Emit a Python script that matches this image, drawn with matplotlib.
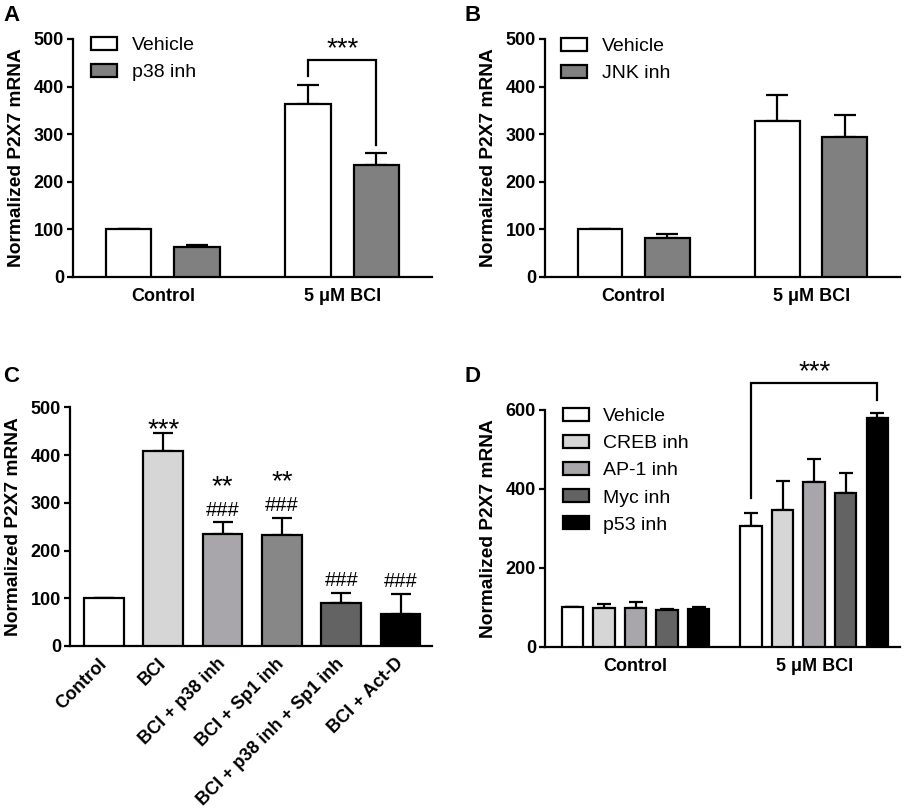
import numpy as np
import matplotlib.pyplot as plt

plt.rcParams['font.family'] = ['Liberation Sans', 'DejaVu Sans']

# Panel A: p38 inhibitor
groups = ['Control', '5 \u03bcM BCI']
a_names = ['Vehicle', 'p38 inh']
a_vals = [[100, 63], [363, 235]]
a_errs = [[0, 4], [40, 25]]

# Panel B: JNK inhibitor
b_names = ['Vehicle', 'JNK inh']
b_vals = [[100, 82], [327, 295]]
b_errs = [[0, 8], [55, 45]]

# Panel C: combined treatments
c_labels = ['Control', 'BCI', 'BCI + p38 inh', 'BCI + Sp1 inh',
            'BCI + p38 inh + Sp1 inh', 'BCI + Act-D']
c_vals = [100, 409, 235, 233, 91, 66]
c_errs = [0, 38, 24, 35, 21, 43]
c_stars = ['', '***', '**', '**', '', '']
c_hash = ['', '', '###', '###', '###', '###']

# Panel D: transcription factor inhibitors
d_names = ['Vehicle', 'CREB inh', 'AP-1 inh', 'Myc inh', 'p53 inh']
d_ctrl = [100, 98, 99, 94, 97]
d_ctrl_err = [0, 10, 15, 2, 4]
d_bci = [305, 346, 418, 389, 579]
d_bci_err = [33, 75, 58, 51, 14]

ab_colors = ['white', '#808080']
c_colors = ['white', '#d6d6d6', '#a8a6ab', '#878787', '#636363', 'black']
d_colors = ['white', '#d6d6d6', '#a8a6ab', '#636363', 'black']

LW = 1.6
fig = plt.figure(figsize=(9.06, 8.08), dpi=100)


def style_axis(ax, ymax, step):
    for s in ['top', 'right']:
        ax.spines[s].set_visible(False)
    for s in ['left', 'bottom']:
        ax.spines[s].set_linewidth(LW)
    ax.set_ylim(0, ymax)
    ax.set_yticks(np.arange(0, ymax + 1, step))
    ax.tick_params(axis='y', length=4.5, width=LW, labelsize=13, pad=2)
    ax.tick_params(axis='x', length=0, labelsize=13, pad=8)
    for t in ax.get_yticklabels() + ax.get_xticklabels():
        t.set_fontweight('bold')
    ax.set_ylabel('Normalized P2X7 mRNA', fontsize=13.8, fontweight='bold', labelpad=6)


def grouped(ax, names, vals, errs, colors, offsets, width, cap):
    vals = np.array(vals)
    errs = np.array(errs)
    for j, name in enumerate(names):
        x = np.arange(len(vals)) + offsets[j]
        ax.bar(x, vals[:, j], width, color=colors[j], edgecolor='black',
               linewidth=LW, label=name, zorder=3)
        ax.errorbar(x, vals[:, j], yerr=[np.zeros(len(x)), errs[:, j]], fmt='none',
                    ecolor='black', elinewidth=LW, capsize=cap, capthick=LW, zorder=2)
    ax.set_xticks(np.arange(len(vals)))
    ax.set_xticklabels(groups)


def legend(ax, x, y):
    ax.legend(loc='upper left', bbox_to_anchor=(x, y), frameon=False, fontsize=14,
              handlelength=1.34, handleheight=0.67, handletextpad=0.75,
              labelspacing=0.5, borderpad=0, borderaxespad=0)


def bracket(ax, x1, x2, y1, y2, top, stars, gap):
    ax.plot([x1, x1, x2, x2], [y1, top, top, y2], color='black', lw=LW,
            clip_on=False, solid_joinstyle='miter')
    ax.text((x1 + x2) / 2, top + gap, stars, ha='center', va='baseline',
            fontsize=20, clip_on=False)


# A
axA = fig.add_axes([0.0806, 0.6572, 0.3962, 0.2946])
grouped(axA, a_names, a_vals, a_errs, ab_colors, [-0.19, 0.19], 0.253, 7.9)
axA.set_xlim(-0.5, 1.5)
style_axis(axA, 500, 100)
legend(axA, 0.05, 1.01)
bracket(axA, 1 - 0.19, 1 + 0.19, 422, 277, 456, '***', 8)

# B
axB = fig.add_axes([0.6015, 0.6572, 0.3918, 0.2946])
grouped(axB, b_names, b_vals, b_errs, ab_colors, [-0.19, 0.19], 0.253, 7.9)
axB.set_xlim(-0.5, 1.5)
style_axis(axB, 500, 100)
legend(axB, 0.045, 1.005)

# C
axC = fig.add_axes([0.0773, 0.2005, 0.3996, 0.2954])
xc = np.arange(len(c_vals))
axC.bar(xc, c_vals, 0.67, color=c_colors, edgecolor='black', linewidth=LW, zorder=3)
axC.errorbar(xc, c_vals, yerr=[np.zeros(len(xc)), c_errs], fmt='none', ecolor='black',
             elinewidth=LW, capsize=7.2, capthick=LW, zorder=2)
axC.set_xlim(-0.57, 5.53)
axC.set_xticks(xc)
axC.set_xticklabels(c_labels)
style_axis(axC, 500, 100)
for t in axC.get_xticklabels():
    t.set_rotation(45)
    t.set_ha('right')
    t.set_va('center')
    t.set_rotation_mode('anchor')
axC.tick_params(axis='x', pad=11)
for i in range(len(c_vals)):
    top = c_vals[i] + c_errs[i]
    if c_hash[i]:
        axC.text(xc[i], top + 14, c_hash[i], ha='center', va='baseline', fontsize=14.5)
    if c_stars[i]:
        yoff = 60 if c_hash[i] else -10
        axC.text(xc[i], top + yoff, c_stars[i], ha='center', va='baseline', fontsize=20)

# D
axD = fig.add_axes([0.6015, 0.1993, 0.3918, 0.2933])
d_off = [-0.353, -0.1765, 0, 0.1765, 0.353]
grouped(axD, d_names, np.array([d_ctrl, d_bci]), np.array([d_ctrl_err, d_bci_err]),
        d_colors, d_off, 0.12, 5)
axD.set_xlim(-0.507, 1.48)
style_axis(axD, 600, 200)
legend(axD, 0.05, 1.01)
bracket(axD, 1 + d_off[0], 1 + d_off[4], 377, 625, 668, '***', 10)

for lab, x, y in [('A', 0.004, 0.994), ('B', 0.513, 0.994),
                  ('C', 0.003, 0.547), ('D', 0.513, 0.547)]:
    fig.text(x, y, lab, fontsize=16, fontweight='bold', va='top')

fig.savefig('out.png', dpi=100)
